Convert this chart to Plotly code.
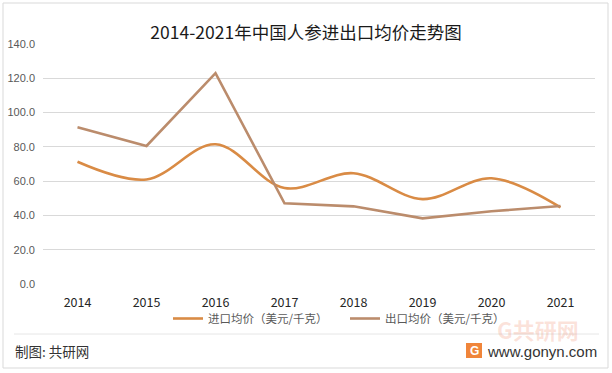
import plotly.graph_objects as go

years = ["2014", "2015", "2016", "2017", "2018", "2019", "2020", "2021"]
import_price = [71.3, 61.0, 81.5, 56.0, 64.6, 49.5, 61.7, 44.7]
export_price = [91.4, 80.5, 123.0, 47.1, 45.3, 38.3, 42.4, 45.5]
y_ticks = [0, 20, 40, 60, 80, 100, 120, 140]

fig = go.Figure()
fig.add_trace(go.Scatter(
    x=years, y=import_price, mode="lines", name="进口均价（美元/千克）",
    line=dict(color="#D98B45", width=2.6, shape="spline", smoothing=1.0),
))
fig.add_trace(go.Scatter(
    x=years, y=export_price, mode="lines", name="出口均价（美元/千克）",
    line=dict(color="#BB8C6C", width=2.6),
))

font_cjk = "Noto Sans CJK SC, Noto Sans, sans-serif"

def px(x):
    return (x - 43) / 552

def py(y):
    return (284 - y) / 240

fig.update_layout(
    width=612, height=373,
    margin=dict(l=43, r=17, t=44, b=89),
    paper_bgcolor="white", plot_bgcolor="white",
    font=dict(family=font_cjk, color="#595959"),
    title=dict(text="2014-2021年中国人参进出口均价走势图", x=0.5, xanchor="center",
               y=1 - 33 / 373, yanchor="middle",
               font=dict(size=17.5, color="#1a1a1a", family=font_cjk)),
    showlegend=True,
    legend=dict(orientation="h", x=px(168), xanchor="left", y=py(318.5), yanchor="middle",
                font=dict(size=11.5, color="#595959"), itemwidth=30, entrywidth=132,
                tracegroupgap=0, bgcolor="rgba(0,0,0,0)"),
    xaxis=dict(type="category", showgrid=False, showline=False, ticks="",
               tickfont=dict(size=12.5, color="#262626", family=font_cjk),
               ticklabelstandoff=9, automargin=False,
               range=[-0.5, 7.5], fixedrange=True),
    yaxis=dict(range=[0, 140], tickvals=y_ticks, tickformat=".1f",
               showgrid=True, gridcolor="#D9D9D9", gridwidth=1,
               zeroline=False, showline=False, ticks="",
               ticklabelstandoff=7, automargin=False,
               tickfont=dict(size=11, color="#595959", family="Liberation Sans, Arial, sans-serif"),
               fixedrange=True),
    shapes=[
        dict(type="rect", xref="paper", yref="paper",
             x0=px(3), x1=px(608), y0=py(368), y1=py(3),
             line=dict(color="#D9D9D9", width=1), fillcolor="rgba(0,0,0,0)", layer="below"),
        dict(type="line", xref="paper", yref="paper",
             x0=px(14), x1=px(599), y0=py(334), y1=py(334),
             line=dict(color="#E6E6E6", width=1)),
        dict(type="rect", xref="paper", yref="paper",
             x0=px(466), x1=px(482), y0=py(358), y1=py(343),
             line=dict(width=0), fillcolor="#F0853A"),
    ],
    annotations=[
        dict(text="制图: 共研网", xref="paper", yref="paper",
             x=px(13), y=py(351), xanchor="left", yanchor="middle",
             showarrow=False, font=dict(size=13.5, color="#333333", family=font_cjk)),
        dict(text="www.gonyn.com", xref="paper", yref="paper",
             x=px(599), y=py(351), xanchor="right", yanchor="middle",
             showarrow=False, font=dict(size=15, color="#333333", family="Liberation Sans, Arial, sans-serif")),
        dict(text="<b>G</b>", xref="paper", yref="paper",
             x=px(474), y=py(350.5), xanchor="center", yanchor="middle",
             showarrow=False, font=dict(size=12, color="white", family="Liberation Sans, Arial")),
        dict(text="<b>G共研网</b>", xref="paper", yref="paper",
             x=px(581), y=py(329), xanchor="right", yanchor="middle",
             showarrow=False, font=dict(size=22, color="rgba(240,140,110,0.25)", family=font_cjk)),
    ],
)

post = (
    "document.documentElement.style.margin='0';"
    "document.body.style.margin='0';document.body.style.padding='0';"
    "var d=document.getElementById('{plot_id}');"
    "d.style.position='absolute';d.style.left='0px';d.style.top='0px';"
)
fig.write_html("out.html", config={"displayModeBar": False}, post_script=post)
